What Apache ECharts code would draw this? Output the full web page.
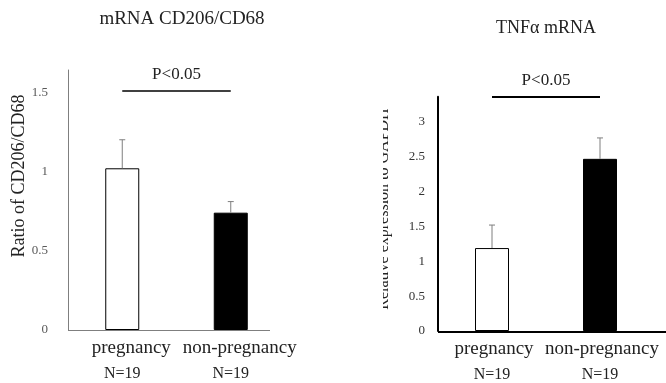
<!DOCTYPE html>
<html>
<head>
<meta charset="utf-8">
<script src="https://cdn.jsdelivr.net/npm/echarts@6/dist/echarts.min.js"></script>
<style>html,body{margin:0;padding:0;background:#fff}#c{width:666px;height:383px}</style>
</head>
<body>
<div id="c"></div>
<script>
const cats = ['pregnancy', 'non-pregnancy'];
const nLabels = ['N=19', 'N=19'];
const cd206Mean = [1.02, 0.74];
const cd206Err = [0.18, 0.07];
const tnfMean = [1.19, 2.47];
const tnfErr = [0.33, 0.30];
const cd206Max = 1.64;
const tnfMax = 3.36;
const tickStep = 0.5;
const sigText = 'P<0.05';
const cd206SigY = 1.51;
const tnfSigY = 3.36;
const titles = ['mRNA CD206/CD68', 'TNF\u03b1 mRNA'];
const yNames = ['Ratio of CD206/CD68', 'Relative expression to GAPDH'];

const FONT = "'Liberation Serif','Times New Roman',serif";
const chart = echarts.init(document.getElementById('c'), null, {renderer: 'canvas'});

function errSeries(idx, mean, err, color) {
  return {
    type: 'custom', xAxisIndex: idx, yAxisIndex: idx, z: 5, clip: false,
    data: mean.map((m, i) => [i, m, m + err[i]]),
    renderItem: function (params, api) {
      const p0 = api.coord([api.value(0), api.value(1)]);
      const p1 = api.coord([api.value(0), api.value(2)]);
      return {
        type: 'group',
        children: [
          {type: 'line', shape: {x1: p0[0], y1: p0[1], x2: p1[0], y2: p1[1]}, style: {stroke: color, lineWidth: 1}},
          {type: 'line', shape: {x1: p1[0] - 3, y1: p1[1], x2: p1[0] + 3, y2: p1[1]}, style: {stroke: color, lineWidth: 1}}
        ]
      };
    }
  };
}

function barSeries(idx, mean, sigY, lineW) {
  return {
    type: 'bar', xAxisIndex: idx, yAxisIndex: idx, barWidth: 34, clip: false,
    data: mean.map((m, i) => ({
      value: m,
      itemStyle: i === 0 ? {color: '#ffffff', borderColor: '#000', borderWidth: 1} : {color: '#000000', borderColor: '#000', borderWidth: 1}
    })),
    markLine: {
      silent: true, symbol: 'none',
      lineStyle: {color: '#000', width: lineW, type: 'solid'},
      label: {show: true, position: 'middle', formatter: sigText, fontFamily: FONT, fontSize: 17, color: '#222', distance: 8},
      data: [[{coord: [0, sigY]}, {coord: [1, sigY]}]]
    }
  };
}

function xAxis(idx, pad) {
  return {
    type: 'category', gridIndex: idx, data: cats,
    axisLine: {show: false}, axisTick: {show: false},
    axisLabel: {
      interval: 0, margin: 6,
      formatter: (v, i) => '{a|' + v + '}\n{b|' + nLabels[i] + '}',
      rich: {
        a: {fontFamily: FONT, fontSize: 19, lineHeight: 24, color: '#222', padding: [0, 0, 0, pad]},
        b: {fontFamily: FONT, fontSize: 16, lineHeight: 28, color: '#222'}
      }
    }
  };
}

function yAxis(idx, max, color, width, margin, labelColor) {
  return {
    type: 'value', gridIndex: idx, min: 0, max: max, interval: tickStep,
    axisLine: {show: true, lineStyle: {color: color, width: width}},
    axisTick: {show: false}, splitLine: {show: false},
    axisLabel: {showMaxLabel: false, margin: margin, fontFamily: FONT, fontSize: 13, color: labelColor}
  };
}

chart.setOption({
  animation: false,
  backgroundColor: '#fff',
  title: [
    {text: titles[0], left: 177, top: 5, textAlign: 'center', textStyle: {fontFamily: FONT, fontSize: 19, fontWeight: 'normal', color: '#222'}},
    {text: titles[1], left: 541, top: 14, textAlign: 'center', textStyle: {fontFamily: FONT, fontSize: 18, fontWeight: 'normal', color: '#222'}}
  ],
  grid: [
    {left: 68, top: 70, width: 217, height: 260},
    {left: 438, top: 96.8, width: 216, height: 235.2}
  ],
  xAxis: [xAxis(0, 18), xAxis(1, 4)],
  yAxis: [
    yAxis(0, cd206Max, '#7f7f7f', 1, 20, '#595959'),
    yAxis(1, tnfMax, '#000', 2, 13, '#333')
  ],
  series: [
    barSeries(0, cd206Mean, cd206SigY, 1.5),
    errSeries(0, cd206Mean, cd206Err, '#7f7f7f'),
    barSeries(1, tnfMean, tnfSigY, 2),
    errSeries(1, tnfMean, tnfErr, '#7f7f7f')
  ],
  graphic: [
    {type: 'line', shape: {x1: 68, y1: 330.5, x2: 270, y2: 330.5}, style: {stroke: '#7f7f7f', lineWidth: 1}, z: 10},
    {type: 'line', shape: {x1: 438, y1: 332, x2: 666, y2: 332}, style: {stroke: '#000', lineWidth: 2}, z: 10},
    {type: 'text', x: 19, y: 176, rotation: Math.PI / 2,
     style: {text: yNames[0], font: '18px ' + FONT, fill: '#222', textAlign: 'center', textVerticalAlign: 'middle'}},
    {type: 'text', x: 384, y: 209, rotation: Math.PI / 2,
     style: {text: yNames[1], font: '16px ' + FONT, fill: '#222', textAlign: 'center', textVerticalAlign: 'middle'}, z: 10},
    {type: 'rect', shape: {x: 340, y: 90, width: 43, height: 250}, style: {fill: '#fff'}, z: 20}
  ]
});
</script>
</body>
</html>
